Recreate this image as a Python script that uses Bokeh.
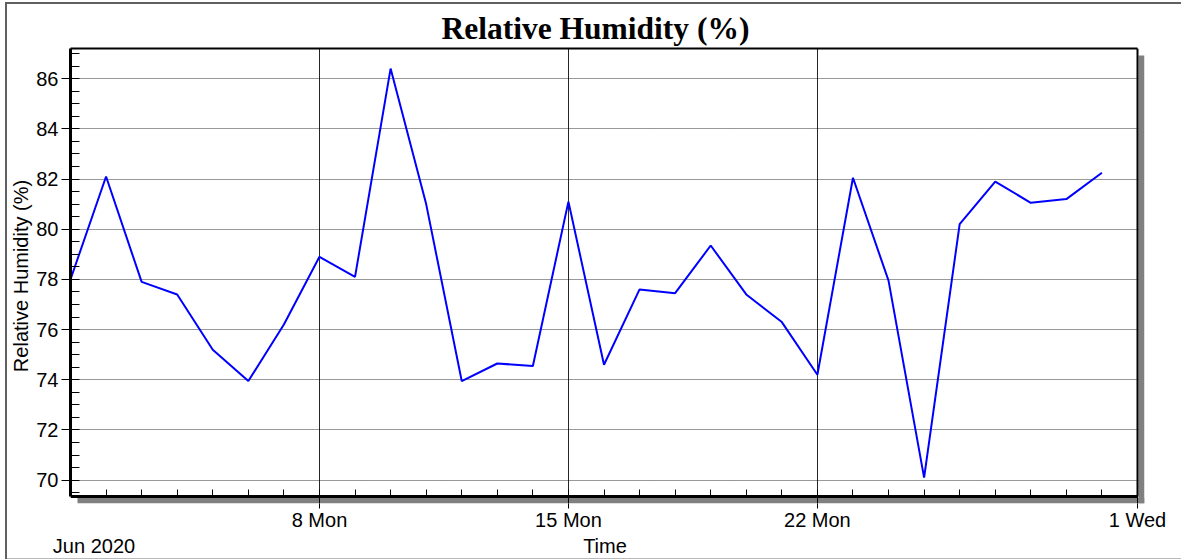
from datetime import datetime, timezone
from bokeh.plotting import figure
from bokeh.models import (Range1d, FixedTicker, SingleIntervalTicker,
                          LinearAxis, ColumnDataSource)
from bokeh.embed import file_html
from bokeh.resources import INLINE

# ---- data ----
days = list(range(1, 31))  # June 2020, daily
humidity = [78.0, 82.1, 77.9, 77.4, 75.2, 73.95, 76.2, 78.9, 78.1, 86.4,
            81.0, 73.95, 74.65, 74.55, 81.1, 74.6, 77.6, 77.45, 79.35, 77.4,
            76.3, 74.2, 82.05, 77.95, 70.1, 80.2, 81.9, 81.05, 81.2, 82.25]
tick_dates = [(2020, 6, 8), (2020, 6, 15), (2020, 6, 22), (2020, 7, 1)]
tick_labels = ["8 Mon", "15 Mon", "22 Mon", "1 Wed"]
title_text = "Relative Humidity (%)"
y_label = "Relative Humidity (%)"
x_label = "Time"
period_label = "Jun 2020"


def ms(y, m, d, h=0):
    return datetime(y, m, d, h, tzinfo=timezone.utc).timestamp() * 1000.0


x_ms = [ms(2020, 6, d) for d in days]
tick_ms = [ms(*t) for t in tick_dates]
minor_ms = [ms(2020, 6, d) for d in range(1, 31)] + [ms(2020, 7, 1)]

FONT = "Liberation Sans"
DAY = 86400000.0
X0, X1 = ms(2020, 6, 1), ms(2020, 7, 1)
Y0, Y1 = 69.35, 87.2
PX_PER_DAY = 1067 / 30.0
PX_PER_Y = 448 / (Y1 - Y0)
SH = 7  # drop-shadow size in px


def dx(px):
    return px / PX_PER_DAY * DAY


def dy(px):
    return px / PX_PER_Y


p = figure(width=1181, height=560, x_axis_type="datetime",
           output_backend="svg", toolbar_location=None,
           x_range=Range1d(X0, X1 + dx(SH)),
           y_range=Range1d(Y0 - dy(SH), Y1),
           min_border_left=70, min_border_right=37,
           min_border_top=48, min_border_bottom=57)

p.background_fill_color = "white"
p.border_fill_color = None
p.outline_line_color = None
# sunken outer frame of the picture (page background behind the canvas)
p.styles = {
    "background": ("linear-gradient(#606060,#606060) 5px 2px / 1176px 2px no-repeat, "
                   "linear-gradient(#606060,#606060) 5px 2px / 2px 557px no-repeat, "
                   "linear-gradient(#b8b8b8,#b8b8b8) 5px 558px / 1176px 1px no-repeat, "
                   "white"),
}

# title
p.title.text = title_text
p.title.text_font = "Liberation Serif"
p.title.text_font_style = "bold"
p.title.text_font_size = "31.5px"
p.title.text_color = "black"
p.title.align = "left"
p.title.offset = 371
p.title.standoff = 6

# grids
yt = SingleIntervalTicker(interval=2, num_minor_ticks=4)
xt = FixedTicker(ticks=tick_ms, minor_ticks=minor_ms)
p.xgrid.ticker = xt
p.xgrid.grid_line_color = "black"
p.xgrid.grid_line_width = 1
p.xgrid.grid_line_alpha = 0.85
p.ygrid.ticker = yt
p.ygrid.grid_line_color = "black"
p.ygrid.grid_line_dash = "1 1"
p.ygrid.grid_line_width = 1
p.ygrid.grid_line_alpha = 0.8

# drop shadow of the plot area (right and bottom)
p.quad(left=[X1 + dx(1), X0 + dx(SH)], right=[X1 + dx(SH), X1 + dx(SH)],
       top=[Y1 - dy(SH), Y0 - dy(1.5)], bottom=[Y0 - dy(SH), Y0 - dy(SH)],
       fill_color="#808080", line_color=None)
# right border of the plot area
p.segment(x0=[X1], y0=[Y0], x1=[X1], y1=[Y1], line_color="black",
          line_width=2)

src = ColumnDataSource(dict(x=x_ms, y=humidity))
p.line("x", "y", source=src, line_color="#0000ff", line_width=2)

# main bottom axis: tick labels and the lower part of the major ticks
xa = p.xaxis[0]
xa.ticker = xt
xa.major_label_overrides = {t: lab for t, lab in zip(tick_ms, tick_labels)}
xa.axis_line_color = None
xa.major_tick_out = 5
xa.major_tick_in = 0
xa.minor_tick_in = 0
xa.minor_tick_out = 0
xa.major_tick_line_color = "black"
xa.major_label_standoff = 0
xa.major_label_text_font = FONT
xa.major_label_text_font_size = "20px"
xa.major_label_text_color = "black"

# visible x-axis line at the plot-area bottom, with inner day ticks
xline = LinearAxis(fixed_location=Y0, ticker=xt, bounds=(X0, X1),
                   axis_line_width=3, axis_line_color="black",
                   major_tick_in=0, major_tick_out=SH,
                   minor_tick_in=7, minor_tick_out=0,
                   major_tick_line_color="black",
                   minor_tick_line_color="black",
                   major_label_text_alpha=0, major_label_text_font_size="1px")
p.add_layout(xline, "below")

# second row below the axis: period and axis title
row2 = LinearAxis(ticker=FixedTicker(ticks=[X0 + dx(23.5), X0 + dx(534.5)]),
                  axis_line_color=None, major_tick_out=0, major_tick_in=0,
                  minor_tick_out=0, minor_tick_in=0,
                  major_label_standoff=1,
                  major_label_text_font=FONT,
                  major_label_text_font_size="20px",
                  major_label_text_color="black")
row2.major_label_overrides = {X0 + dx(23.5): period_label,
                              X0 + dx(534.5): x_label}
p.add_layout(row2, "below")

# top border of the plot area
top = LinearAxis(ticker=FixedTicker(ticks=[]), bounds=(X0, X1),
                 axis_line_width=2, axis_line_color="black",
                 major_tick_out=0, major_tick_in=0,
                 minor_tick_out=0, minor_tick_in=0,
                 major_label_standoff=0, major_label_text_font_size="1px")
p.add_layout(top, "above")

# y axis
ya = p.yaxis[0]
ya.ticker = yt
ya.bounds = (Y0, Y1)
ya.major_tick_out = 9
ya.major_tick_in = 0
ya.minor_tick_in = 9
ya.minor_tick_out = 0
ya.major_tick_line_color = "black"
ya.minor_tick_line_color = "black"
ya.axis_line_width = 3
ya.axis_line_color = "black"
ya.major_label_standoff = 3
ya.major_label_text_font = FONT
ya.major_label_text_font_size = "20px"
ya.major_label_text_color = "black"
ya.axis_label = y_label
ya.axis_label_text_font = FONT
ya.axis_label_text_font_size = "20px"
ya.axis_label_text_font_style = "normal"
ya.axis_label_text_color = "black"
ya.axis_label_standoff = 1

open("out.html", "w").write(file_html(p, INLINE))
